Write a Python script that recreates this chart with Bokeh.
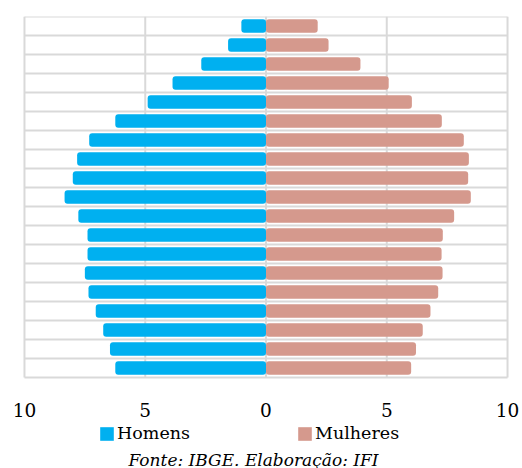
from bokeh.plotting import figure
from bokeh.models import (Range1d, FixedTicker, Legend, LegendItem, Label,
                          ColumnDataSource)
from bokeh.embed import file_html
from bokeh.resources import INLINE

# Age groups, youngest first (bottom of the pyramid)
ages = ["0-4", "5-9", "10-14", "15-19", "20-24", "25-29", "30-34", "35-39",
        "40-44", "45-49", "50-54", "55-59", "60-64", "65-69", "70-74",
        "75-79", "80-84", "85-89", "90+"]
# Percent of population, same order as ages
homens = [6.24, 6.46, 6.74, 7.05, 7.35, 7.50, 7.39, 7.39, 7.77, 8.34,
          8.00, 7.82, 7.32, 6.24, 4.90, 3.87, 2.68, 1.57, 1.02]
mulheres = [6.01, 6.21, 6.49, 6.81, 7.13, 7.31, 7.27, 7.32, 7.79, 8.48,
            8.37, 8.40, 8.19, 7.28, 6.04, 5.08, 3.91, 2.59, 2.14]
x_ticks = [-10, -5, 0, 5, 10]

BLUE = "#00B0F0"
PINK = "#D5998D"
GRID = "#D9D9D9"
SERIF = "DejaVu Serif"

n = len(ages)
xmin, xmax = x_ticks[0], x_ticks[-1]
ypos = [i + 0.5 for i in range(n)]
src = ColumnDataSource(dict(
    age=ages, y=ypos,
    hl=[-v for v in homens], zero=[0] * n, mr=mulheres))

# frame extends around the pyramid to host tick labels, legend and source note
p = figure(width=522, height=468, output_backend="svg", toolbar_location=None,
           x_range=Range1d(-10.91, 10.62), y_range=Range1d(-91 / 19, n),
           min_border_left=2, min_border_right=0, min_border_top=16,
           min_border_bottom=0)
p.background_fill_color = "white"
p.border_fill_color = "white"
p.outline_line_color = None
p.grid.visible = False

# grid lines limited to the plotting area (x: -10..10, y: row boundaries)
row_edges = list(range(n + 1))
p.segment(x0=x_ticks, y0=[0] * len(x_ticks), x1=x_ticks, y1=[n] * len(x_ticks),
          line_color=GRID, line_width=2)
p.segment(x0=[xmin] * len(row_edges), y0=row_edges,
          x1=[xmax] * len(row_edges), y1=row_edges,
          line_color=GRID, line_width=2)

r_h = p.hbar(y="y", left="hl", right="zero", height=0.72, source=src,
             fill_color=BLUE, line_color=None, border_radius=3)
r_m = p.hbar(y="y", left="zero", right="mr", height=0.72, source=src,
             fill_color=PINK, line_color=None, border_radius=3)

p.yaxis.visible = False
ax = p.xaxis[0]
ax.fixed_location = 0
ax.ticker = FixedTicker(ticks=x_ticks)
ax.major_label_overrides = {t: str(abs(t)) for t in x_ticks}
ax.axis_line_color = None
ax.major_tick_line_color = None
ax.minor_tick_line_color = None
ax.major_tick_out = 0
ax.major_tick_in = 0
ax.major_label_standoff = 25
ax.major_label_text_font = SERIF
ax.major_label_text_font_size = "18.5px"
ax.major_label_text_color = "black"

legend = Legend(items=[LegendItem(label="Homens", renderers=[r_h]),
                       LegendItem(label="Mulheres", renderers=[r_m])],
                orientation="horizontal", location=(96, 25),
                glyph_width=17, glyph_height=17, label_standoff=2,
                label_width=118, spacing=61, padding=0, margin=0,
                border_line_color=None, background_fill_alpha=0,
                label_text_font=SERIF, label_text_font_size="17.5px",
                label_text_color="black")
p.add_layout(legend, "center")

fonte = Label(x=251, y=9, x_units="screen", y_units="screen",
              text="Fonte: IBGE. Elaboração: IFI", text_align="center",
              text_baseline="alphabetic", text_font=SERIF,
              text_font_style="italic", text_font_size="17px",
              text_color="black")
p.add_layout(fonte)

open("out.html", "w").write(file_html(p, INLINE))
